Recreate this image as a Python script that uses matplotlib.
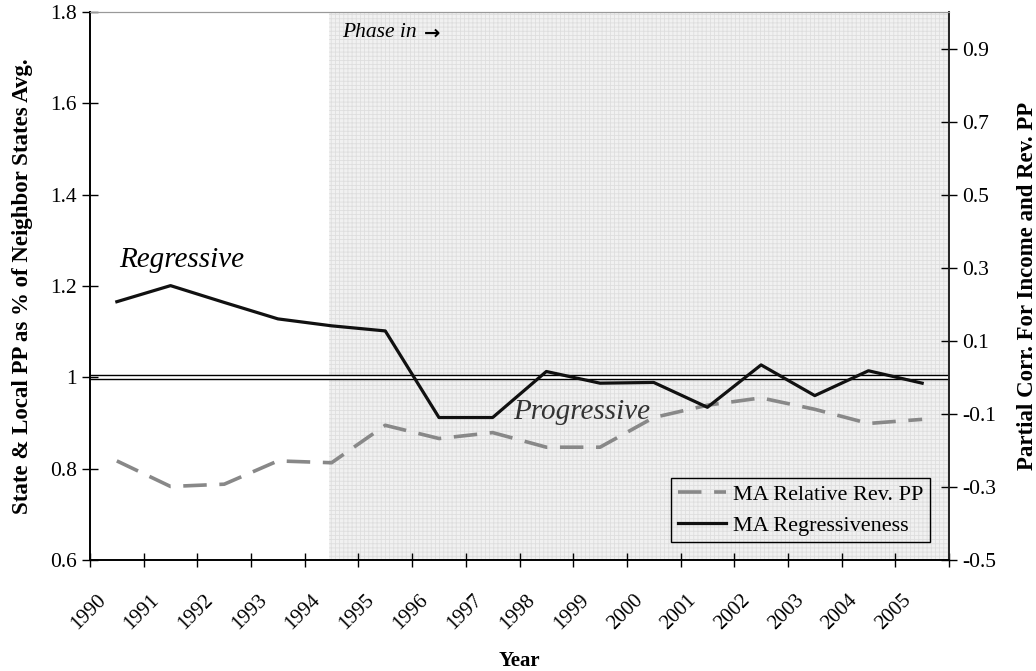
import matplotlib
matplotlib.use("Agg")
import matplotlib.pyplot as plt
import matplotlib.transforms as mtransforms
from matplotlib.ticker import FixedLocator, FuncFormatter
import numpy as np

# donnees
years = [str(y) for y in range(1990, 2006)]
rel_rev_pp = [0.817, 0.761, 0.766, 0.817, 0.813, 0.895, 0.866, 0.879,
              0.847, 0.847, 0.912, 0.939, 0.955, 0.930, 0.899, 0.908]
regressiveness = [0.207, 0.251, 0.205, 0.160, 0.141, 0.127, -0.110, -0.110,
                  0.016, -0.016, -0.014, -0.082, 0.034, -0.050, 0.018, -0.016]
phase_start = 3.95  # debut de la zone "Phase in" (annee 1994)

plt.rcParams['font.family'] = ['Liberation Serif', 'DejaVu Serif']
plt.rcParams['hatch.linewidth'] = 0.6

fig = plt.figure(figsize=(10.36, 6.71), dpi=100)
ax = fig.add_axes([90/1036, 1-560/671, (949-90)/1036, (560-12)/671])
ax2 = ax.twinx()

x = np.arange(len(years))
ax.set_xlim(-0.5, len(years)-0.5)
ax.set_ylim(0.6, 1.8)
ax2.set_ylim(-0.5, 1.0)

# zone grisee
ax.axvspan(phase_start, len(years)-0.5, facecolor='#f1f1f1', edgecolor='#dedede',
           hatch='++++', lw=0, zorder=0)

# double ligne a 1 / 0
ax.axhline(1.0, color='black', lw=3.9, zorder=1)
ax.axhline(1.0, color='white', lw=1.9, zorder=1.1)

l1, = ax.plot(x, rel_rev_pp, color='#888888', lw=2.6, dashes=(6.5, 3.5),
              label='MA Relative Rev. PP', zorder=3)
l2, = ax2.plot(x, regressiveness, color='#111111', lw=2.3,
               label='MA Regressiveness', zorder=3)

# axe x : etiquettes au centre, traits aux limites
ax.xaxis.set_major_locator(FixedLocator(x))
ax.set_xticklabels(years, rotation=45, ha='right', fontsize=15)
ax.xaxis.set_minor_locator(FixedLocator(np.arange(-0.5, len(years), 1)))
ax.tick_params(axis='x', which='major', length=0, pad=22)
ax.tick_params(axis='x', which='minor', direction='inout', length=10, width=1)
offset = mtransforms.ScaledTranslation(-7/100, 0, fig.dpi_scale_trans)
for lab in ax.get_xticklabels():
    lab.set_transform(lab.get_transform() + offset)

ax.set_yticks([0.6, 0.8, 1.0, 1.2, 1.4, 1.6, 1.8])
ax.yaxis.set_major_formatter(FuncFormatter(lambda v, p: '{:g}'.format(round(v, 2))))
ax.tick_params(axis='y', direction='inout', length=11, width=1, labelsize=15.5, pad=4)
ax2.set_yticks([-0.5, -0.3, -0.1, 0.1, 0.3, 0.5, 0.7, 0.9])
ax2.yaxis.set_major_formatter(FuncFormatter(lambda v, p: '{:.1f}'.format(v)))
ax2.tick_params(axis='y', direction='inout', length=11, width=1, labelsize=15.5, pad=4)

for a in (ax, ax2):
    a.spines['top'].set_color('#999999')
    a.spines['left'].set_linewidth(1.2)
    a.spines['right'].set_linewidth(1.2)
    a.spines['bottom'].set_linewidth(1.2)
    a.spines['right'].set_color('#222222')
ax2.patch.set_visible(False)

ax.set_ylabel('State & Local PP as % of Neighbor States Avg.', fontsize=16.5, fontweight='bold')
ax.yaxis.set_label_coords(-0.0664, 0.5)
ax2.set_ylabel('Partial Corr. For Income and Rev. PP', fontsize=16.5, fontweight='bold')
ax2.yaxis.set_label_coords(1.079, 0.5)
ax.set_xlabel('Year', fontsize=15, fontweight='bold')
ax.xaxis.set_label_coords(0.5, -0.166)

ax.text(0.04, 1.2416, 'Regressive', fontsize=21, style='italic', va='baseline', zorder=4)
ax.text(7.38, 0.909, 'Progressive', fontsize=21, style='italic', color='#333333',
        va='baseline', zorder=4)
top_tr = mtransforms.blended_transform_factory(ax.transData, ax.transAxes)
ax.text(4.19, 0.9617, 'Phase in', fontsize=15.5, style='italic', va='center',
        transform=top_tr)
ax.text(5.72, 0.9617, '\u2192', fontsize=14, fontweight='bold', va='center',
        family='DejaVu Sans', transform=top_tr)

leg = ax2.legend(handles=[l1, l2], loc='lower right', bbox_to_anchor=(0.978, 0.032),
                 fontsize=16, frameon=True, fancybox=False, framealpha=1,
                 handlelength=2.2, borderpad=0.3, labelspacing=0.45, handletextpad=0.3,
                 borderaxespad=0)
leg.get_frame().set_facecolor('none')
leg.get_frame().set_edgecolor('black')
leg.get_frame().set_linewidth(1)

fig.savefig('out.png', dpi=100)
